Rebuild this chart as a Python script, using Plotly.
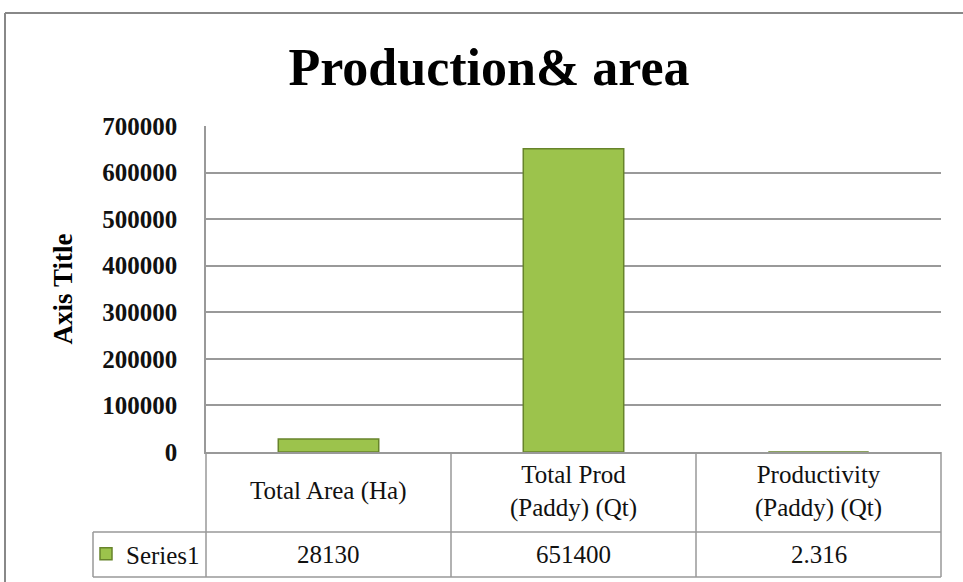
import plotly.graph_objects as go

categories = ["Total Area (Ha)", "Total Prod (Paddy) (Qt)", "Productivity (Paddy) (Qt)"]
category_labels = ["Total Area (Ha)", "Total Prod<br>(Paddy) (Qt)", "Productivity<br>(Paddy) (Qt)"]
values = [28130, 651400, 2.316]
series_name = "Series1"
y_ticks = [0, 100000, 200000, 300000, 400000, 500000, 600000, 700000]

FONT = "Liberation Serif"
GRID = "#999999"
BAR = "#9cc34c"
BAR_EDGE = "#67842b"

W, H = 963, 582
L, R, T, B = 206, 22, 126, 130
PW, PH = W - L - R, H - T - B


def xp(px):
    return (px - L) / PW


def yp(py):
    return (H - B - py) / PH


fig = go.Figure()
fig.add_trace(go.Bar(
    x=categories, y=values, name=series_name, width=0.41,
    marker=dict(color=BAR, line=dict(color=BAR_EDGE, width=1.5)),
    showlegend=True,
))

shapes = []
# outer chart border (left and top edges visible)
shapes.append(dict(type="line", xref="paper", yref="paper", x0=xp(5), x1=xp(5),
                   y0=yp(13), y1=yp(600), line=dict(color="#888888", width=2)))
shapes.append(dict(type="line", xref="paper", yref="paper", x0=xp(5), x1=xp(980),
                   y0=yp(13), y1=yp(13), line=dict(color="#888888", width=2)))

n = len(categories)
row1 = yp(532)
row2 = yp(577)
legend_left = xp(93)
# vertical table lines at category boundaries
for i in range(n + 1):
    shapes.append(dict(type="line", xref="paper", yref="paper", x0=i / n, x1=i / n,
                       y0=0, y1=row2, line=dict(color=GRID, width=1.5)))
shapes.append(dict(type="line", xref="paper", yref="paper", x0=legend_left, x1=legend_left,
                   y0=row1, y1=row2, line=dict(color=GRID, width=1.5)))
for yy in (row1, row2):
    shapes.append(dict(type="line", xref="paper", yref="paper", x0=legend_left, x1=1,
                       y0=yy, y1=yy, line=dict(color=GRID, width=1.5)))

annotations = []
for cat, lab, v in zip(categories, category_labels, values):
    annotations.append(dict(x=cat, xref="x", y=yp(491), yref="paper", text=lab,
                            showarrow=False, xanchor="center", yanchor="middle",
                            font=dict(family=FONT, size=25, color="#111111")))
    annotations.append(dict(x=cat, xref="x", y=yp(554), yref="paper", text=f"{v:g}",
                            showarrow=False, xanchor="center", yanchor="middle",
                            font=dict(family=FONT, size=25, color="#111111")))

fig.update_layout(
    width=W, height=H,
    margin=dict(l=L, r=R, t=T, b=B, autoexpand=False),
    paper_bgcolor="white", plot_bgcolor="white",
    title=dict(text="<b>Production& area</b>", x=xp(489), xref="paper", xanchor="center",
               y=1 - 67 / H, yref="container", yanchor="middle",
               font=dict(family=FONT, size=52, color="black")),
    xaxis=dict(showticklabels=False, showgrid=False, showline=True, linecolor=GRID,
               linewidth=1.5, ticks="", zeroline=False),
    yaxis=dict(range=[0, 700000], tickvals=y_ticks, ticktext=[str(t) for t in y_ticks],
               showgrid=True, gridcolor=GRID, gridwidth=1.5, showline=True, linecolor=GRID,
               linewidth=1.5, zeroline=False, ticks="", ticklabelstandoff=22,
               tickfont=dict(family=FONT, size=25, color="#111111", weight="bold"),
               title=dict(text="<b>Axis Title</b>", standoff=22,
                          font=dict(family=FONT, size=27, color="black"))),
    legend=dict(x=xp(86), y=yp(554), xanchor="left", yanchor="middle",
                bgcolor="rgba(0,0,0,0)", font=dict(family=FONT, size=25, color="#111111"),
                itemwidth=30),
    shapes=shapes, annotations=annotations,
    bargap=0.59,
)

fig.write_html("out.html")
